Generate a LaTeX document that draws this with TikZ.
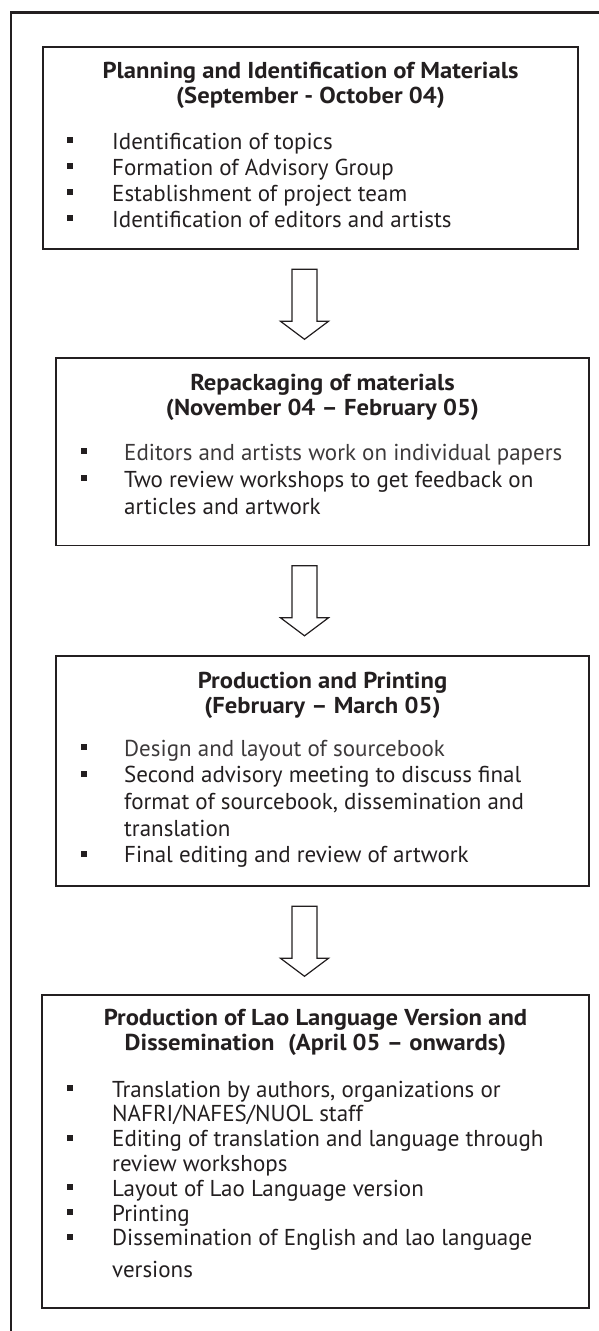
\documentclass[tikz,border=0pt]{standalone}
\usepackage{fontspec}
\setmainfont{PT Sans}[BoldFeatures={FakeStretch=1.07}]
\usetikzlibrary{calc}
\definecolor{ink}{HTML}{231F20}

% bullet lists and centred titles built from fixed-pitch line stacks
\newlength\bulind
\newcommand\bsq{\rule[0.26em]{0.26em}{0.26em}}
\newcommand\BItem[1]{\hbox{\makebox[\bulind][l]{\bsq}#1}}
\newcommand\CItem[1]{\hbox{\hspace*{\bulind}#1}}
\newcommand\TLine[1]{\hbox to 0pt{\hss#1\hss}}
\newcommand\LinesBox[2]{\vtop{\baselineskip=#1\lineskiplimit=-50pt\lineskip=0pt #2}}

\tikzset{
  panel/.style={draw=ink, line width=1.5pt, rectangle, inner sep=0pt},
  frameline/.style={draw=ink, line width=2.6pt},
  blockarrow/.style={draw=ink, line width=1.2pt, line join=miter, fill=white},
  ttl/.style={inner sep=0pt, text=ink, font=\fontsize{23}{25}\selectfont\bfseries},
  lst/.style={inner sep=0pt, text=ink, font=\fontsize{23}{26}\selectfont},
}

\begin{document}
\begin{tikzpicture}[x=1pt,y=-1pt]
\useasboundingbox (0,0) rectangle (599,1331);

% open page frame: top and left rules only
\coordinate (fc) at (11,12.5);
\draw[frameline] (599,12.5) -- (fc) -- (11,1331);

% stage panels
\node[panel, minimum width=535pt, minimum height=202pt] (p1) at (310.5,148) {};
\node[panel, minimum width=533pt, minimum height=187.5pt] (p2) at (322.5,451.75) {};
\node[panel, minimum width=533pt, minimum height=230pt] (p3) at (322.5,771) {};
\node[panel, minimum width=547pt, minimum height=313pt] (p4) at (315.5,1151.5) {};

% stage 1
\node[ttl, anchor=base] (t1) at (310.5,78) {\LinesBox{25pt}{%
  \TLine{Planning and Identification of Materials}%
  \TLine{(September - October 04)}}};
\node[lst, anchor=base west] (l1) at (67,149) {\setlength\bulind{45pt}\LinesBox{26pt}{%
  \BItem{Identification of topics}%
  \BItem{Formation of Advisory Group}%
  \BItem{Establishment of project team}%
  \BItem{Identification of editors and artists}}};

% stage 2
\node[ttl, anchor=base] (t2) at (322.5,390) {\LinesBox{25pt}{%
  \TLine{Repackaging of materials}%
  \TLine{(November 04 – February 05)}}};
\node[lst, anchor=base west] (l2) at (81,460) {\setlength\bulind{43pt}\LinesBox{27pt}{%
  \BItem{\color{ink!88}Editors and artists work on individual papers}%
  \BItem{Two review workshops to get feedback on}%
  \CItem{articles and artwork}}};

% stage 3
\node[ttl, anchor=base] (t3) at (322.5,688) {\LinesBox{25pt}{%
  \TLine{Production and Printing}%
  \TLine{(February – March 05)}}};
\node[lst, anchor=base west] (l3) at (81,756) {\setlength\bulind{43pt}\LinesBox{26.7pt}{%
  \BItem{\color{ink!88}Design and layout of sourcebook}%
  \BItem{Second advisory meeting to discuss final}%
  \CItem{format of sourcebook, dissemination and}%
  \CItem{translation}%
  \BItem{Final editing and review of artwork}}};

% stage 4
\node[ttl, anchor=base] (t4) at (315.5,1025) {\LinesBox{25pt}{%
  \TLine{Production of Lao Language Version and}%
  \TLine{Dissemination\hspace{0.6em}(April 05 – onwards)}}};
\node[lst, anchor=base west] (l4) at (67,1097) {\setlength\bulind{45pt}\LinesBox{24.8pt}{%
  \BItem{Translation by authors, organizations or}%
  \CItem{NAFRI/NAFES/NUOL staff}%
  \BItem{Editing of translation and language through}%
  \CItem{review workshops}%
  \BItem{Layout of Lao Language version}%
  \BItem{Printing}%
  \BItem{Dissemination of English and lao language}%
  \kern7pt
  \CItem{versions}}};

% hollow block arrows between consecutive panels
\coordinate (axis) at (304.5,0);
\foreach \a/\b in {p1/p2, p2/p3, p3/p4} {
  \draw[blockarrow] ($(axis |- \a.south)+(-12.5,19.5)$) -- ++(25,0) -- ++(0,52)
    -- ++(11.5,0) -- ++(-24,18) -- ++(-24,-18) -- ++(11.5,0) -- cycle;
}
\end{tikzpicture}
\end{document}
